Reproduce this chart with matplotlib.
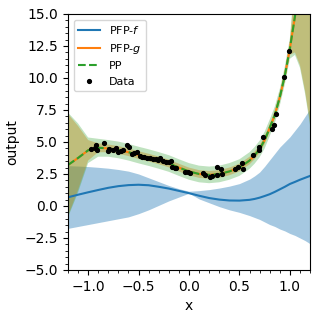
import numpy as np
import matplotlib
matplotlib.use("Agg")
import matplotlib.pyplot as plt
from matplotlib.ticker import AutoMinorLocator

xs = [-1.2, -1.1, -1.0, -0.9, -0.8, -0.7, -0.6, -0.5, -0.4, -0.3, -0.2, -0.1,
      0.0, 0.1, 0.2, 0.3, 0.4, 0.5, 0.6, 0.65, 0.7, 0.75, 0.8, 0.85, 0.9, 0.95,
      1.0, 1.05, 1.1, 1.15, 1.2]

# PFP-f: mean and band edges
f_mean = [0.68, 0.88, 1.07, 1.25, 1.42, 1.55, 1.63, 1.66, 1.62, 1.5, 1.36, 1.18,
          1.0, 0.8, 0.62, 0.5, 0.43, 0.42, 0.48, 0.55, 0.65, 0.78, 0.92, 1.1, 1.3, 1.5,
          1.72, 1.88, 2.05, 2.2, 2.35]
f_hi = [3.15, 3.12, 3.08, 3.02, 2.95, 2.85, 2.72, 2.5, 2.2, 1.9, 1.6, 1.35,
        1.15, 1.2, 1.28, 1.4, 1.55, 1.75, 2.1, 2.35, 2.65, 3.1, 3.6, 4.1, 4.6, 5.0,
        5.4, 5.9, 6.4, 7.0, 7.6]
f_lo = [-1.75, -1.6, -1.45, -1.3, -1.15, -1.0, -0.85, -0.6, -0.3, 0.05, 0.4, 0.7,
        1.0, 0.55, 0.25, -0.05, -0.3, -0.5, -0.75, -0.9, -1.05, -1.25, -1.45, -1.6, -1.8, -1.95,
        -2.15, -2.3, -2.5, -2.7, -2.95]

# PFP-g / PP: mean (they coincide) and band half-widths
g_mean = [3.2, 3.75, 4.35, 4.55, 4.5, 4.38, 4.2, 3.98, 3.78, 3.56, 3.32, 3.0,
          2.7, 2.5, 2.43, 2.5, 2.7, 3.0, 3.55, 3.95, 4.45, 5.15, 6.1, 7.1, 8.5, 10.2,
          12.3, 14.8, 17.8, 21.2, 25.0]
g_half = [4.0, 2.5, 0.8, 0.35, 0.3, 0.3, 0.3, 0.3, 0.3, 0.3, 0.3, 0.3,
          0.3, 0.3, 0.3, 0.3, 0.3, 0.3, 0.3, 0.3, 0.3, 0.3, 0.3, 0.3, 0.3, 0.35,
          0.5, 2.8, 6.8, 12.2, 18.5]
pp_half = [4.1, 2.7, 1.0, 0.7, 0.65, 0.65, 0.65, 0.65, 0.65, 0.65, 0.65, 0.65,
           0.65, 0.65, 0.65, 0.65, 0.65, 0.65, 0.65, 0.65, 0.65, 0.65, 0.65, 0.65, 0.65, 0.7,
           0.8, 3.0, 7.0, 12.4, 18.7]

# observed points
data_x = [-0.968, -0.936, -0.923, -0.913, -0.847, -0.805, -0.791, -0.749, -0.726, -0.706,
          -0.673, -0.650, -0.618, -0.594, -0.568, -0.542, -0.519, -0.486, -0.470, -0.443,
          -0.421, -0.387, -0.355, -0.332, -0.305, -0.289, -0.256, -0.233, -0.200, -0.174,
          -0.167, -0.141, -0.125, -0.042, -0.013, 0.010, 0.141, 0.158, 0.207, 0.223,
          0.273, 0.273, 0.322, 0.328, 0.453, 0.486, 0.525, 0.535, 0.634, 0.690,
          0.693, 0.732, 0.824, 0.847, 0.864, 0.946, 0.995]
data_y = [4.45, 4.55, 4.77, 4.40, 4.90, 4.30, 4.45, 4.38, 4.51, 4.20,
          4.30, 4.40, 4.77, 4.61, 4.04, 4.12, 4.20, 3.93, 3.81, 3.85,
          3.73, 3.73, 3.67, 3.67, 3.59, 3.73, 3.52, 3.46, 3.41, 3.52,
          3.07, 2.95, 3.00, 2.63, 2.68, 2.60, 2.55, 2.42, 2.29, 2.37,
          3.07, 2.42, 2.87, 2.48, 2.87, 3.02, 3.38, 2.87, 3.98, 4.38,
          4.63, 5.41, 5.99, 6.33, 7.19, 10.10, 12.13]

x = np.array(xs)
gm = np.array(g_mean)

fig = plt.figure(figsize=(3.19, 3.18), dpi=100)
ax = fig.add_axes([0.213, 0.151, 0.759, 0.805])

ax.fill_between(x, f_lo, f_hi, color='C0', alpha=0.4, lw=0)
ax.plot(x, f_mean, color='C0', lw=1.5, label='PFP-$f$')

ax.fill_between(x, gm - np.array(g_half), gm + np.array(g_half), color='C1', alpha=0.4, lw=0)
ax.plot(x, gm, color='C1', lw=1.5, label='PFP-$g$')

ax.fill_between(x, gm - np.array(pp_half), gm + np.array(pp_half), color='C2', alpha=0.3, lw=0)
ax.plot(x, gm, color='C2', ls='--', lw=1.5, label='PP')

ax.plot(data_x, data_y, 'k.', ms=5.5, label='Data', zorder=5)

ax.set_xlim(-1.2, 1.2)
ax.set_ylim(-5, 15)
ax.xaxis.set_minor_locator(AutoMinorLocator())
ax.yaxis.set_minor_locator(AutoMinorLocator())
ax.set_xlabel('x')
ax.set_ylabel('output')
ax.legend(loc='upper left', fontsize=8)

fig.savefig('out.png', dpi=100)
